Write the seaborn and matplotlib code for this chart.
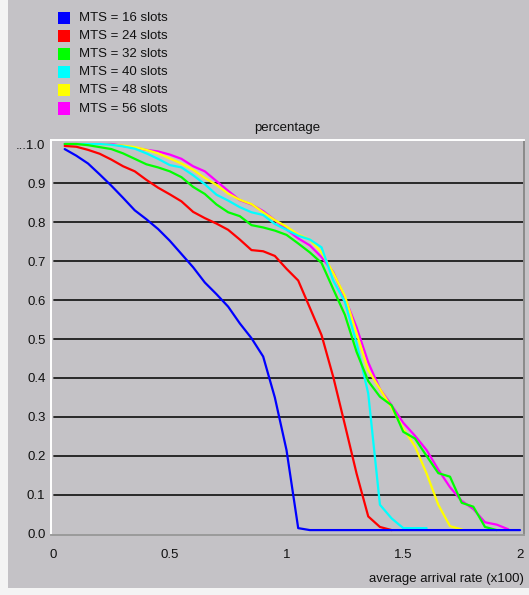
import matplotlib
matplotlib.use("Agg")
import matplotlib.pyplot as plt
from matplotlib.patches import Rectangle
import pandas as pd
import seaborn as sns

# average arrival rate (x100), shared sampling grid
rate = [0.05, 0.10, 0.15, 0.20, 0.25, 0.30, 0.35, 0.40, 0.45, 0.50,
        0.55, 0.60, 0.65, 0.70, 0.75, 0.80, 0.85, 0.90, 0.95, 1.00,
        1.05, 1.10, 1.15, 1.20, 1.25, 1.30, 1.35, 1.40, 1.45, 1.50,
        1.55, 1.60, 1.65, 1.70, 1.75, 1.80, 1.85, 1.90, 1.95, 2.00]

series_labels = ["MTS = 16 slots", "MTS = 24 slots", "MTS = 32 slots",
                 "MTS = 40 slots", "MTS = 48 slots", "MTS = 56 slots"]
series_colors = ["#0000ff", "#ff0000", "#00ff00", "#00ffff", "#ffff00", "#ff00ff"]

mts16 = [0.987, 0.970, 0.950, 0.922, 0.893, 0.862, 0.830, 0.807, 0.782, 0.752,
         0.718, 0.684, 0.645, 0.615, 0.583, 0.540, 0.502, 0.455, 0.350, 0.215,
         0.015, 0.010, 0.010, 0.010, 0.010, 0.010, 0.010, 0.010, 0.010, 0.010,
         0.010, 0.010, 0.010, 0.010, 0.010, 0.010, 0.010, 0.010, 0.010, 0.010]
mts24 = [0.995, 0.993, 0.985, 0.975, 0.960, 0.943, 0.930, 0.908, 0.888, 0.871,
         0.853, 0.826, 0.810, 0.796, 0.780, 0.755, 0.728, 0.725, 0.713, 0.680,
         0.650, 0.580, 0.510, 0.403, 0.280, 0.155, 0.045, 0.018, 0.010]
mts32 = [1.000, 1.000, 0.997, 0.992, 0.987, 0.976, 0.962, 0.948, 0.940, 0.930,
         0.915, 0.890, 0.872, 0.845, 0.825, 0.815, 0.792, 0.786, 0.778, 0.767,
         0.745, 0.722, 0.695, 0.628, 0.562, 0.467, 0.392, 0.352, 0.330, 0.262,
         0.245, 0.200, 0.156, 0.147, 0.080, 0.070, 0.018, 0.010]
mts40 = [1.000, 1.000, 1.000, 1.000, 0.998, 0.994, 0.988, 0.976, 0.962, 0.946,
         0.940, 0.920, 0.897, 0.870, 0.855, 0.838, 0.825, 0.818, 0.795, 0.780,
         0.765, 0.755, 0.735, 0.650, 0.595, 0.490, 0.360, 0.075, 0.040, 0.015,
         0.015, 0.015]
mts48 = [1.000, 1.000, 1.000, 1.000, 0.998, 0.996, 0.992, 0.985, 0.976, 0.963,
         0.950, 0.934, 0.913, 0.895, 0.873, 0.857, 0.846, 0.825, 0.805, 0.788,
         0.768, 0.755, 0.722, 0.670, 0.610, 0.515, 0.420, 0.372, 0.324, 0.270,
         0.225, 0.155, 0.075, 0.020, 0.012]
mts56 = [1.000, 1.000, 1.000, 1.000, 1.000, 0.995, 0.990, 0.985, 0.981, 0.973,
         0.962, 0.943, 0.930, 0.905, 0.880, 0.856, 0.845, 0.828, 0.805, 0.781,
         0.758, 0.740, 0.710, 0.672, 0.605, 0.530, 0.440, 0.372, 0.330, 0.285,
         0.252, 0.215, 0.165, 0.120, 0.085, 0.064, 0.030, 0.024, 0.012]

y_ticks = [0.0, 0.1, 0.2, 0.3, 0.4, 0.5, 0.6, 0.7, 0.8, 0.9, 1.0]
y_tick_labels = ["0.0", "0.1", "0.2", "0.3", "0.4", "0.5", "0.6", "0.7", "0.8", "0.9", "...1.0"]
x_ticks = [0, 0.5, 1, 1.5, 2]
x_tick_labels = ["0", "0.5", "1", "1.5", "2"]

# long-form table: each curve runs until it reaches the floor
frames = []
for label, vals in zip(series_labels, [mts16, mts24, mts32, mts40, mts48, mts56]):
    frames.append(pd.DataFrame({"rate": rate[:len(vals)], "pct": vals, "mts": label}))
df = pd.concat(frames, ignore_index=True)

sns.set_style("white")
plt.rcParams["font.family"] = ["Liberation Sans", "DejaVu Sans"]
plt.rcParams["font.size"] = 9.5

W, H = 529, 595
GREY = "#c4c2c6"

fig = plt.figure(figsize=(W / 100, H / 100), dpi=100, facecolor="#f4f4f4")
fig.patches.append(Rectangle((8 / W, 7 / H), 1 - 8 / W, 1 - 7 / H,
                             transform=fig.transFigure, facecolor=GREY,
                             edgecolor="none", zorder=-5))

ax = fig.add_axes([51 / W, 1 - 535 / H, (524 - 51) / W, (535 - 140) / H])
ax.set_facecolor(GREY)

palette = dict(zip(series_labels, series_colors))
sns.lineplot(data=df, x="rate", y="pct", hue="mts",
             hue_order=series_labels[::-1], palette=palette,
             estimator=None, sort=False, linewidth=1.6, legend=False,
             ax=ax, zorder=3)

# horizontal reference lines
for yv in y_ticks[1:-1]:
    ax.axhline(yv, xmin=0.006, xmax=1.0, color="#1c1c1c", lw=1.3, zorder=1)

ax.set_xlim(-0.0086, 2.017)
ax.set_ylim(-0.0026, 1.0103)

ax.set_yticks(y_ticks)
ax.set_yticklabels(y_tick_labels)
ax.set_xticks(x_ticks)
ax.set_xticklabels(x_tick_labels)
ax.tick_params(axis="y", length=0, pad=4, labelcolor="#111111")
ax.tick_params(axis="x", direction="out", length=7.5, width=1.0,
               color="#202020", pad=2.5, labelcolor="#111111")

for side, col in [("left", "#ffffff"), ("top", "#ffffff"),
                  ("bottom", "#9a9a9a"), ("right", "#8a8a8a")]:
    ax.spines[side].set_visible(True)
    ax.spines[side].set_color(col)
    ax.spines[side].set_linewidth(1.4)

ax.set_title("percentage", pad=6.5, fontsize=9.5, color="#111111")
ax.set_xlabel("average arrival rate (x100)", loc="right", labelpad=9,
              fontsize=9.5, color="#111111")
ax.set_ylabel("")

# key with coloured squares above the plot
for i, (label, col) in enumerate(zip(series_labels, series_colors)):
    yc = 18 + 18.1 * i
    fig.patches.append(Rectangle((58 / W, 1 - (yc + 6) / H), 12 / W, 12 / H,
                                 transform=fig.transFigure, facecolor=col,
                                 edgecolor="none", zorder=2))
    fig.text(79 / W, 1 - yc / H, label, ha="left", va="center",
             fontsize=9.5, color="#111111")

fig.savefig("out.png", dpi=100, facecolor=fig.get_facecolor())
